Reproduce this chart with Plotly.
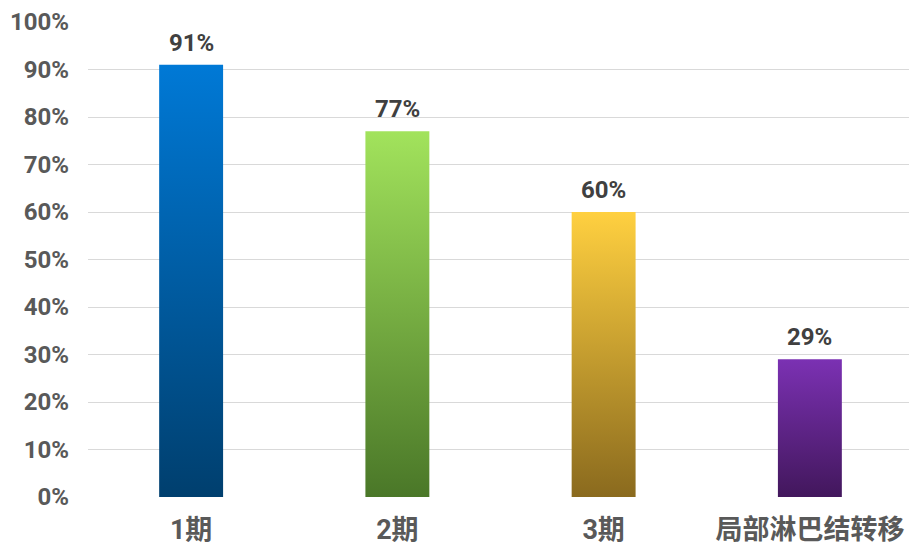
import plotly.graph_objects as go

categories = ["1期", "2期", "3期", "局部淋巴结转移"]
values = [0.91, 0.77, 0.60, 0.29]
labels = ["91%", "77%", "60%", "29%"]
top_colors = ["#0079d6", "#a2e35c", "#ffd040", "#7b31b3"]
bottom_colors = ["#003f6e", "#4a7728", "#8a6a1e", "#42175c"]
tick_vals = [0, 0.1, 0.2, 0.3, 0.4, 0.5, 0.6, 0.7, 0.8, 0.9, 1.0]
tick_text = ["0%", "10%", "20%", "30%", "40%", "50%", "60%", "70%", "80%", "90%", "100%"]

half_w = 0.155
fig = go.Figure()
for i, (v, tc, bc) in enumerate(zip(values, top_colors, bottom_colors)):
    fig.add_trace(go.Scatter(
        x=[i - half_w, i + half_w, i + half_w, i - half_w, i - half_w],
        y=[0, 0, v, v, 0],
        mode="lines", line=dict(width=0), fill="toself",
        fillgradient=dict(type="vertical", colorscale=[[0, bc], [1, tc]]),
        hoverinfo="skip", showlegend=False,
    ))

font_num = "Roboto, 'Noto Sans CJK SC', sans-serif"
annotations = [
    dict(x=i, y=v, xref="x", yref="y", text=t, showarrow=False, yanchor="bottom", yshift=6,
         font=dict(family=font_num, size=24, color="#404040", weight="bold"))
    for i, (v, t) in enumerate(zip(values, labels))
]

fig.update_layout(
    width=909, height=547,
    margin=dict(l=80, r=4, t=14, b=58, autoexpand=False),
    paper_bgcolor="white", plot_bgcolor="white",
    showlegend=False,
    annotations=annotations,
    xaxis=dict(range=[-0.5, 3.5], tickvals=list(range(len(categories))), ticktext=categories,
               showgrid=False, zeroline=False, showline=False, ticks="", automargin=False,
               ticklabelstandoff=14,
               tickfont=dict(family=font_num, size=27, color="#595959", weight="bold")),
    yaxis=dict(range=[0, 1.0], tickvals=tick_vals, ticktext=tick_text,
               showgrid=True, gridcolor="#d9d9d9", gridwidth=1, zeroline=False, showline=False,
               ticks="", ticklabelstandoff=18, automargin=False,
               tickfont=dict(family=font_num, size=24, color="#595959", weight="bold")),
    shapes=[
        dict(type="line", xref="paper", yref="paper", x0=1+2/825, x1=1+2/825, y0=-58/475, y1=1+14/475,
             line=dict(color="#d9d9d9", width=2)),
    ],
)
fig.write_html("out.html")
